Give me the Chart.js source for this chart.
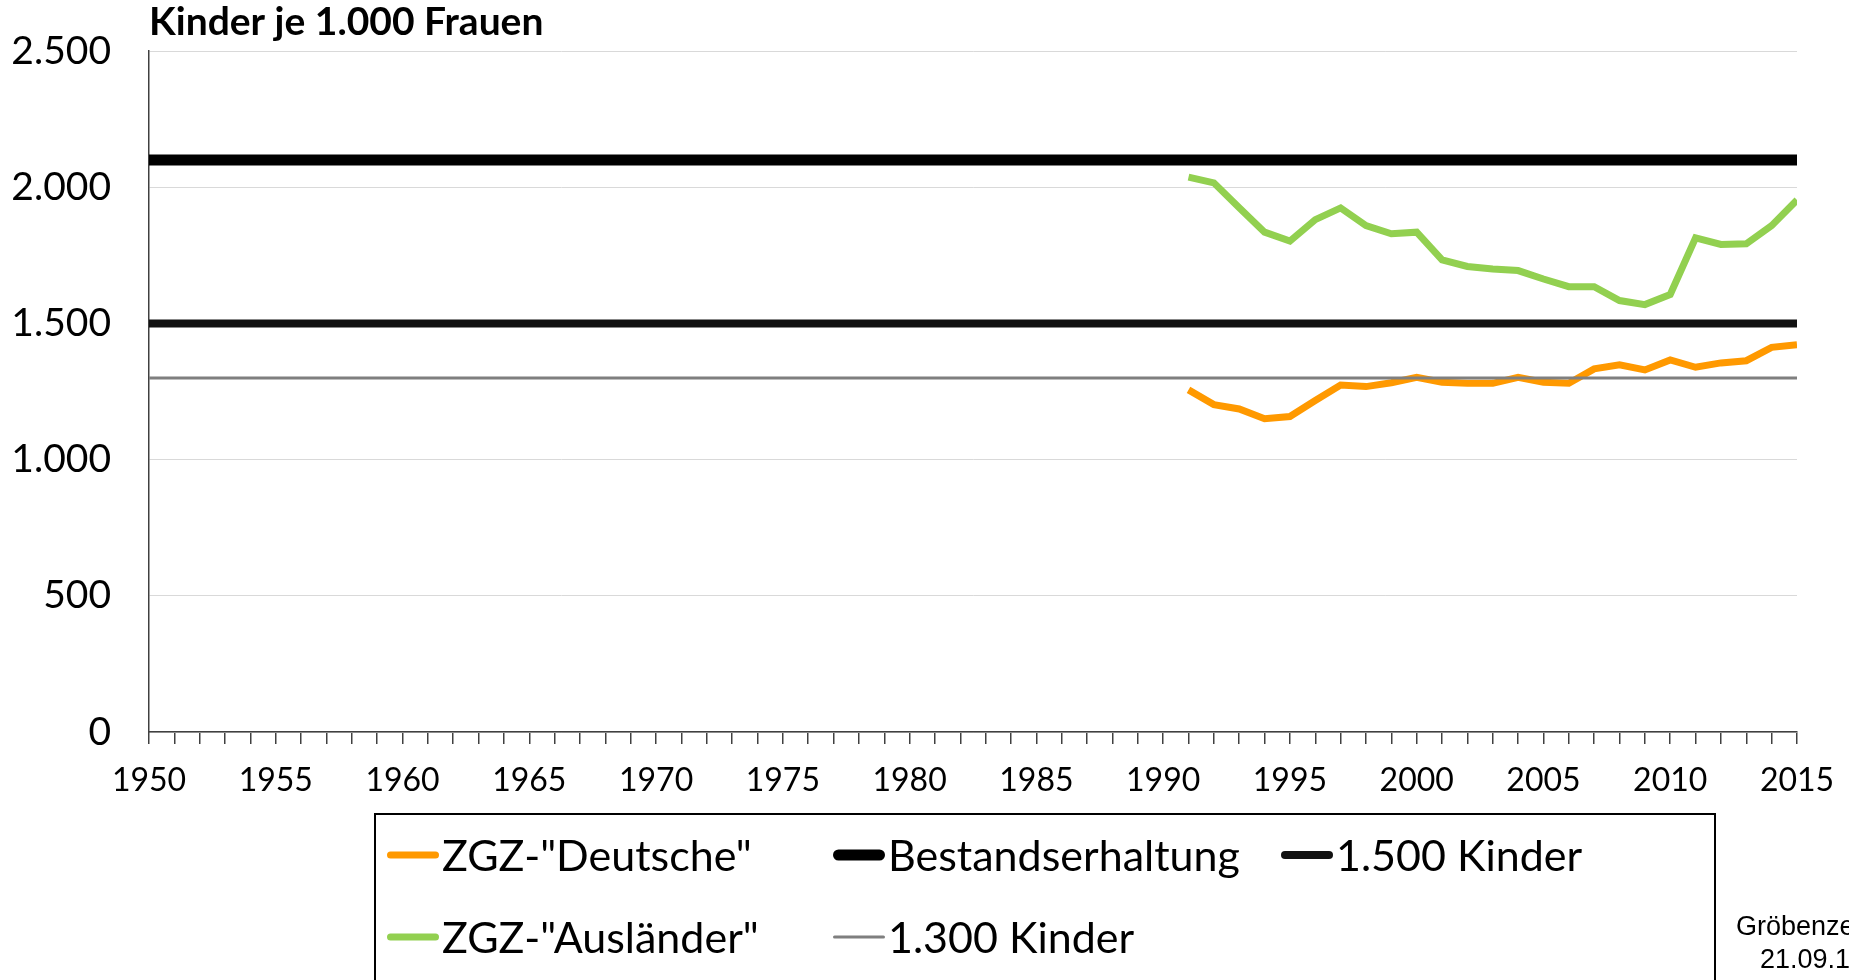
<!DOCTYPE html>
<html>
<head>
<meta charset="utf-8">
<script src="https://cdn.jsdelivr.net/npm/chart.js@4/dist/chart.umd.min.js"></script>
<style>
  html, body { margin: 0; padding: 0; background: #fff; }
  #wrap { width: 1849px; height: 980px; overflow: hidden; }
</style>
</head>
<body>
<div id="wrap"><canvas id="fertilityChart" width="1849" height="980"></canvas></div>
<script>
// Zusammengefasste Geburtenziffer (ZGZ), Kinder je 1.000 Frauen
const years = [1991, 1992, 1993, 1994, 1995, 1996, 1997, 1998, 1999, 2000, 2001, 2002, 2003,
    2004, 2005, 2006, 2007, 2008, 2009, 2010, 2011, 2012, 2013, 2014, 2015];
const deutsche = [1256, 1202, 1186, 1150, 1158, 1217, 1274, 1268, 1282, 1302, 1284, 1280, 1280,
    1302, 1284, 1280, 1333, 1348, 1329, 1366, 1339, 1355, 1363, 1412, 1422];
const auslaender = [2037, 2016, 1925, 1835, 1802, 1881, 1924, 1859, 1829, 1835, 1733, 1709, 1700,
    1694, 1663, 1635, 1635, 1584, 1569, 1606, 1814, 1790, 1792, 1859, 1953];

// Referenzlinien ueber den ganzen Zeitraum
const refYears = [1950, 2015];
const bestandserhaltung = [2100, 2100];
const kinder1500 = [1500, 1500];
const kinder1300 = [1300, 1300];

const yTicks = [0, 500, 1000, 1500, 2000, 2500];

const FONT = 'Lato, "Open Sans", sans-serif';

function pts(xs, ys) {
    return xs.map((x, i) => ({ x: x, y: ys[i] }));
}

function fmt(v) {
    return String(v).replace(/\B(?=(\d{3})+(?!\d))/g, '.');
}

// Titel, Legende (Excel-Anordnung) und Quellenvermerk
const decorations = {
    id: 'decorations',
    afterDraw(chart) {
        const c = chart.ctx;
        const ds = chart.data.datasets;
        c.save();

        c.fillStyle = '#000';
        c.font = 'bold 39px ' + FONT;
        c.textAlign = 'left';
        c.textBaseline = 'middle';
        c.fillText('Kinder je 1.000 Frauen', chart.chartArea.left, 22);

        // Legendenrahmen
        c.strokeStyle = '#000';
        c.lineWidth = 2;
        c.strokeRect(375, 814, 1340, 170);

        const slots = [
            { idx: 0, x: 387, y: 855 },
            { idx: 2, x: 833, y: 855 },
            { idx: 3, x: 1281, y: 855 },
            { idx: 1, x: 387, y: 937 },
            { idx: 4, x: 833, y: 937 }
        ];
        c.font = '43px ' + FONT;
        slots.forEach(s => {
            const d = ds[s.idx];
            c.beginPath();
            c.lineCap = 'round';
            c.strokeStyle = d.borderColor;
            c.lineWidth = d.borderWidth;
            c.moveTo(s.x + d.borderWidth / 2, s.y);
            c.lineTo(s.x + 52 - d.borderWidth / 2, s.y);
            c.stroke();
            c.fillStyle = '#000';
            c.fillText(d.label, s.x + 55, s.y + 2);
        });

        c.font = '27px "Liberation Sans", Arial, sans-serif';
        c.fillText('Gröbenzell', 1736, 928);
        c.fillText('21.09.16', 1760, 961);
        c.restore();
    }
};

const ctx = document.getElementById('fertilityChart').getContext('2d');
new Chart(ctx, {
    type: 'line',
    data: {
        datasets: [
            {
                label: 'ZGZ-"Deutsche"',
                data: pts(years, deutsche),
                borderColor: '#ff9900',
                borderWidth: 7,
                order: 2,
            },
            {
                label: 'ZGZ-"Ausländer"',
                data: pts(years, auslaender),
                borderColor: '#92d050',
                borderWidth: 7,
                order: 2,
            },
            {
                label: 'Bestandserhaltung',
                data: pts(refYears, bestandserhaltung),
                borderColor: '#000000',
                borderWidth: 11,
                order: 1,
            },
            {
                label: '1.500 Kinder',
                data: pts(refYears, kinder1500),
                borderColor: '#111111',
                borderWidth: 8,
                order: 1,
            },
            {
                label: '1.300 Kinder',
                data: pts(refYears, kinder1300),
                borderColor: '#7f7f7f',
                borderWidth: 3,
                order: 0,
            },
        ],
    },
    options: {
        responsive: false,
        animation: false,
        devicePixelRatio: 1,
        elements: {
            point: { radius: 0, hoverRadius: 0 },
            line: { tension: 0, borderCapStyle: 'butt', borderJoinStyle: 'miter' },
        },
        layout: {
            padding: { left: 0, right: 52, top: 51, bottom: 168 },
        },
        plugins: {
            legend: { display: false },
            title: { display: false },
            tooltip: { enabled: false },
        },
        scales: {
            x: {
                type: 'linear',
                min: 1950,
                max: 2015,
                afterFit(scale) {
                    scale.height = 80;
                    scale.paddingLeft = 0;
                    scale.paddingRight = 0;
                },
                border: { display: true, color: '#404040', width: 1.5 },
                grid: {
                    drawOnChartArea: false,
                    drawTicks: true,
                    tickLength: 12,
                    color: '#404040',
                    lineWidth: 1.5,
                },
                ticks: {
                    stepSize: 1,
                    autoSkip: false,
                    maxRotation: 0,
                    padding: 17,
                    color: '#000',
                    font: { family: FONT, size: 32 },
                    callback: v => (v % 5 === 0 ? String(v) : ''),
                },
            },
            y: {
                min: 0,
                max: 2500,
                afterFit(scale) { scale.width = 149; },
                afterBuildTicks(scale) { scale.ticks = yTicks.map(v => ({ value: v })); },
                border: { display: true, color: '#404040', width: 1.5 },
                grid: {
                    drawTicks: true,
                    tickLength: 35,
                    tickColor: 'rgba(0,0,0,0)',
                    color: '#d9d9d9',
                    lineWidth: 1,
                },
                ticks: {
                    padding: 3,
                    color: '#000',
                    font: { family: FONT, size: 39 },
                    callback: v => fmt(v),
                },
            },
        },
    },
    plugins: [decorations],
});
</script>
</body>
</html>
